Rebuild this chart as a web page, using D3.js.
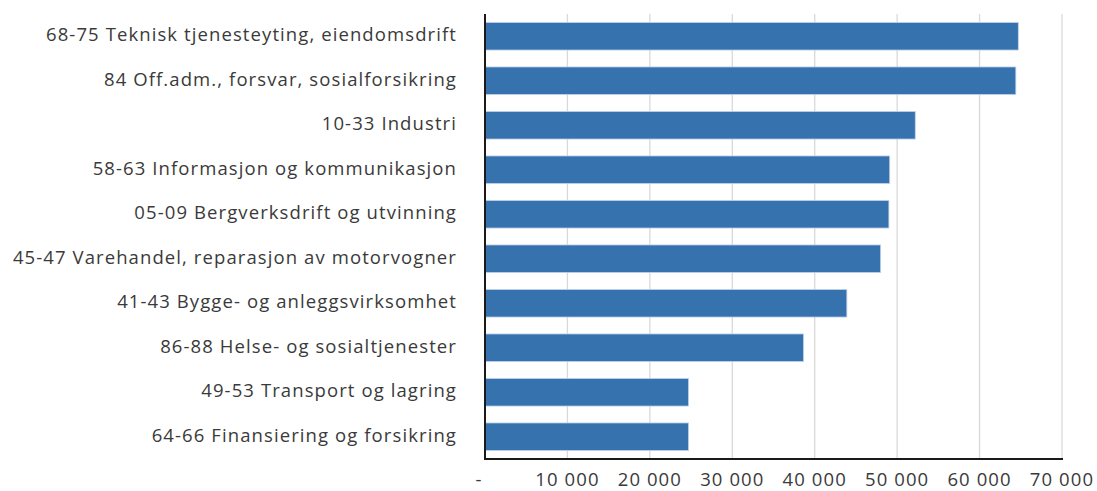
<!DOCTYPE html>
<html><head><meta charset="utf-8">
<script src="https://cdn.jsdelivr.net/npm/d3@7"></script>
<style>body{margin:0;background:#fff}svg{display:block}text{font-family:"Open Sans",Lato,sans-serif;fill:#3a3a3a;font-weight:400}</style>
</head><body>
<svg id="c" width="1097" height="491"></svg>
<script>
const categories = [
  "68-75 Teknisk tjenesteyting, eiendomsdrift",
  "84 Off.adm., forsvar, sosialforsikring",
  "10-33 Industri",
  "58-63 Informasjon og kommunikasjon",
  "05-09 Bergverksdrift og utvinning",
  "45-47 Varehandel, reparasjon av motorvogner",
  "41-43 Bygge- og anleggsvirksomhet",
  "86-88 Helse- og sosialtjenester",
  "49-53 Transport og lagring",
  "64-66 Finansiering og forsikring"
];
const values = [64700, 64400, 52200, 49100, 49000, 48000, 43900, 38650, 24700, 24700];
const tickValues = [0, 10000, 20000, 30000, 40000, 50000, 60000, 70000];
const tickLabels = ["-", "10 000", "20 000", "30 000", "40 000", "50 000", "60 000", "70 000"];

const svg = d3.select("#c");
const mLeft = 485, mRight = 1062, mTop = 14, mBottom = 459;
const x = d3.scaleLinear().domain([0, 70000]).range([mLeft, mRight]);
const y = d3.scaleBand().domain(categories).range([mTop, mBottom]).paddingInner(0.38).paddingOuter(0.19);

// gridlines
svg.append("g").selectAll("line").data(tickValues.slice(1)).join("line")
  .attr("x1", d => x(d)).attr("x2", d => x(d))
  .attr("y1", mTop).attr("y2", mBottom)
  .attr("stroke", "#d9d9d9").attr("stroke-width", 1.3);

// bars
svg.append("g").selectAll("rect").data(values).join("rect")
  .attr("x", x(0)).attr("y", (d, i) => y(categories[i]))
  .attr("width", d => x(d) - x(0)).attr("height", y.bandwidth())
  .attr("fill", "#3672ae").attr("stroke", "#c3d4ea").attr("stroke-width", 0.8);

// axes lines
svg.append("line").attr("x1", mLeft).attr("x2", mLeft).attr("y1", mTop).attr("y2", mBottom + 1)
  .attr("stroke", "#1a1a1a").attr("stroke-width", 2);
svg.append("line").attr("x1", mLeft - 1).attr("x2", mRight + 1).attr("y1", mBottom).attr("y2", mBottom)
  .attr("stroke", "#1a1a1a").attr("stroke-width", 2);

// category labels
const labels = svg.append("g").selectAll("text").data(categories).join("text")
  .attr("x", 457).attr("y", d => y(d) + y.bandwidth() / 2 + 5)
  .attr("text-anchor", "end")
  .style("font-size", "18.5px").text(d => d);
// fit letter spacing so the first label spans the reference width
const n0 = labels.nodes()[0];
const w0 = n0.getComputedTextLength();
const ls = Math.max(-1, Math.min(2, (411 - w0) / (categories[0].length)));
labels.style("letter-spacing", ls + "px");

// tick labels
svg.append("g").selectAll("text").data(tickValues).join("text")
  .attr("x", (d, i) => i === 0 ? x(d) - 6 : x(d)).attr("y", 486)
  .attr("text-anchor", "middle").style("font-size", "18.5px")
  .style("letter-spacing", ls + "px")
  .text((d, i) => tickLabels[i]);
</script>
</body></html>
